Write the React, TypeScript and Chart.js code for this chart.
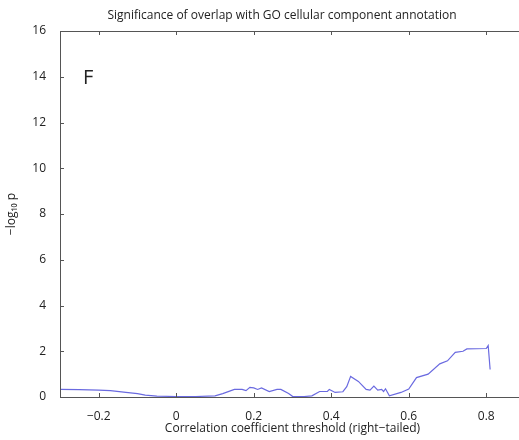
import React, { useEffect, useRef } from "react";
import { Chart, registerables } from "chart.js";
Chart.register(...registerables);

const xs = [-0.3,-0.25,-0.2,-0.17,-0.13,-0.1,-0.08,-0.05,0,0.05,0.1,0.12,0.15,0.17,0.18,0.19,0.2,0.21,0.22,0.24,0.26,0.27,0.29,0.3,0.33,0.35,0.37,0.39,0.395,0.41,0.43,0.44,0.45,0.47,0.49,0.5,0.51,0.52,0.53,0.535,0.54,0.55,0.58,0.6,0.62,0.65,0.68,0.7,0.72,0.74,0.75,0.8,0.805,0.81];
const ys = [0.33,0.32,0.3,0.28,0.2,0.15,0.08,0.04,0.02,0.02,0.05,0.15,0.33,0.33,0.28,0.42,0.4,0.33,0.4,0.24,0.33,0.33,0.15,0.03,0.02,0.05,0.24,0.24,0.33,0.2,0.23,0.45,0.9,0.68,0.33,0.3,0.48,0.3,0.33,0.24,0.36,0.05,0.2,0.35,0.85,1.0,1.45,1.58,1.95,2.0,2.1,2.12,2.25,1.2];
const xTicks = [-0.2, 0, 0.2, 0.4, 0.6, 0.8];
const yTicks = [0, 2, 4, 6, 8, 10, 12, 14, 16];
const title = "Significance of overlap with GO cellular component annotation";
const font = "'Open Sans', sans-serif";

export default function App() {
  const ref = useRef<HTMLCanvasElement>(null);
  useEffect(() => {
    const deco = {
      id: "deco",
      afterDraw(c: any) {
        const { ctx, chartArea: a, scales } = c;
        ctx.save();
        ctx.strokeStyle = "#555";
        ctx.lineWidth = 1;
        ctx.beginPath();
        ctx.moveTo(a.left, a.top + 0.5); ctx.lineTo(a.right, a.top + 0.5);
        ctx.moveTo(a.left + 0.5, a.top); ctx.lineTo(a.left + 0.5, a.bottom);
        ctx.moveTo(a.left, a.bottom + 0.5); ctx.lineTo(a.right, a.bottom + 0.5);
        xTicks.forEach((t) => {
          const x = Math.round(scales.x.getPixelForValue(t)) + 0.5;
          ctx.moveTo(x, a.bottom); ctx.lineTo(x, a.bottom - 4);
          ctx.moveTo(x, a.top); ctx.lineTo(x, a.top + 4);
        });
        yTicks.forEach((t) => {
          const y = Math.round(scales.y.getPixelForValue(t)) + 0.5;
          ctx.moveTo(a.left, y); ctx.lineTo(a.left + 4, y);
        });
        ctx.stroke();
        ctx.fillStyle = "#222";
        ctx.font = `12px ${font}`;
        ctx.textAlign = "center";
        ctx.fillText(title, 282, 19);
        ctx.font = `20px ${font}`;
        ctx.textAlign = "left";
        ctx.fillText("F", 83, 84);
        ctx.restore();
      },
    };
    const chart = new Chart(ref.current!, {
      type: "line",
      data: {
        datasets: [{
          data: xs.map((x, i) => ({ x, y: ys[i] })),
          borderColor: "#6a6ae0",
          borderWidth: 1.2,
          pointRadius: 0,
          tension: 0,
        }],
      },
      options: {
        animation: false,
        responsive: false,
        events: [],
        layout: { padding: { top: 31, left: 0, right: 15, bottom: 0 } },
        plugins: { legend: { display: false }, tooltip: { enabled: false } },
        scales: {
          x: {
            type: "linear", min: -0.3, max: 0.9,
            afterBuildTicks: (s: any) => { s.ticks = xTicks.map((v) => ({ value: v })); },
            afterFit: (s: any) => { s.height = 43; },
            grid: { display: false },
            border: { display: false },
            ticks: { color: "#222", font: { family: font, size: 12 }, padding: 4, callback: (v: any) => String(v).replace("-", "\u2212") },
            title: { display: true, text: "Correlation coefficient threshold (right\u2212tailed)", color: "#222", font: { family: font, size: 12 }, padding: { top: 0 } },
          },
          y: {
            min: 0, max: 16,
            afterBuildTicks: (s: any) => { s.ticks = yTicks.map((v) => ({ value: v })); },
            afterFit: (s: any) => { s.width = 60; },
            grid: { display: false },
            border: { display: false },
            ticks: { color: "#222", font: { family: font, size: 12 }, padding: 6 },
            title: { display: true, text: "\u2212log\u2081\u2080 p", color: "#222", font: { family: font, size: 12 } },
          },
        },
      },
      plugins: [deco],
    });
    return () => chart.destroy();
  }, []);
  return (
    <div style={{ width: 519, height: 440, overflow: "hidden", position: "fixed", left: 0, top: 0, background: "#fff" }}>
      <canvas ref={ref} width={540} height={440} style={{ width: 540, height: 440 }} />
    </div>
  );
}
